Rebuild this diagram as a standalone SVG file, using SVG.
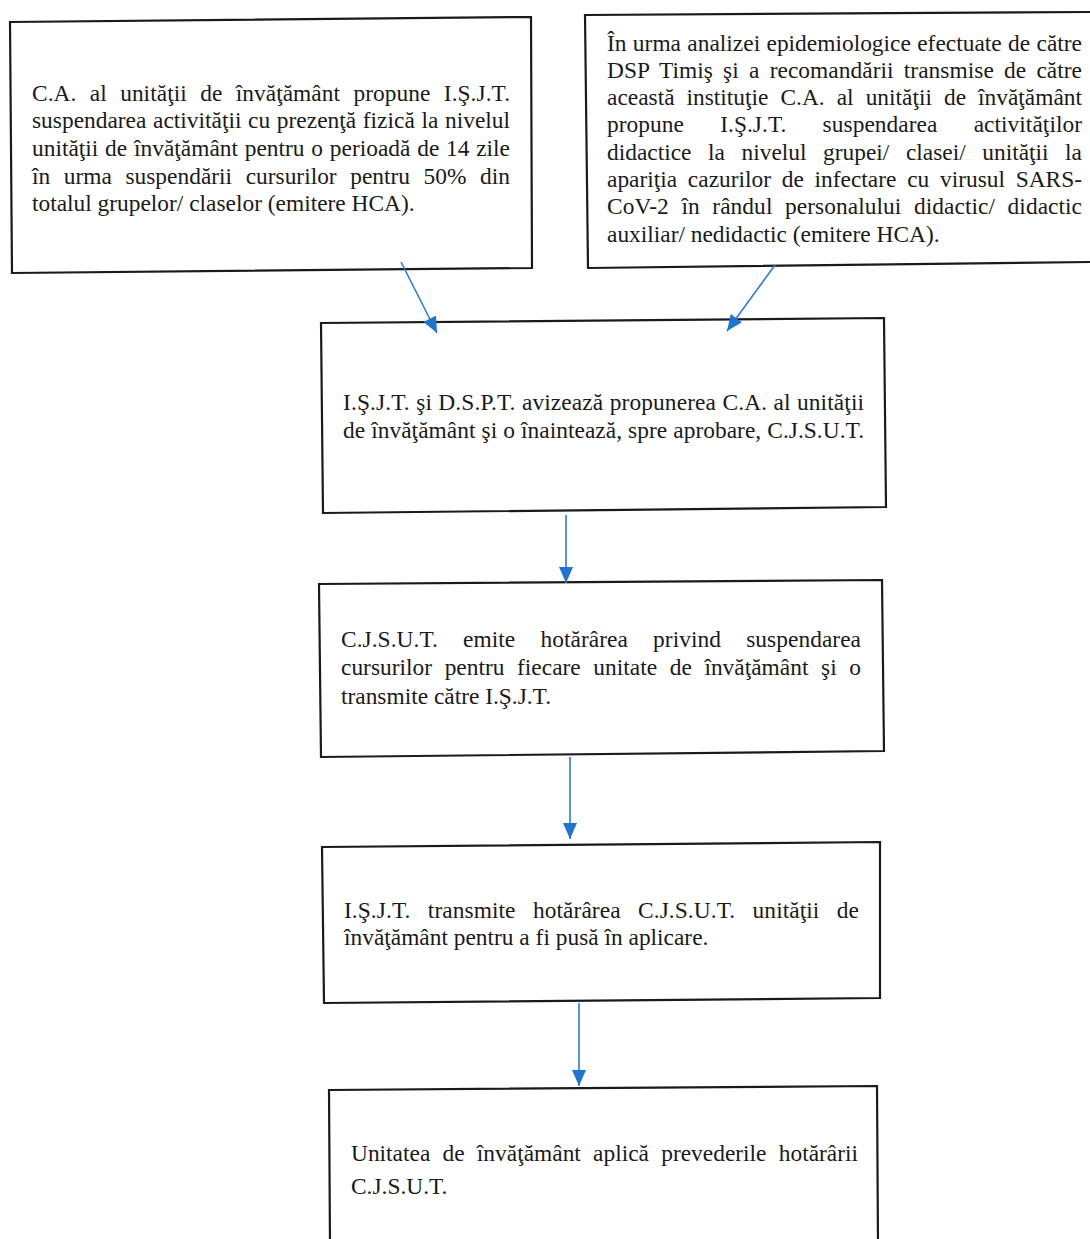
<svg xmlns="http://www.w3.org/2000/svg" width="1090" height="1239" viewBox="0 0 1090 1239">
<style>
.box{fill:#fff;stroke:#1a1a1a;stroke-width:2.2}
.t{font-family:"Liberation Serif","Times New Roman",serif;font-size:23.4px;fill:#1a1a1a}
.c{stroke:#2a7ed6;stroke-width:1.6;fill:none}
</style>
<defs>
<marker id="ah" markerUnits="userSpaceOnUse" markerWidth="18" markerHeight="16" refX="16" refY="7" orient="auto">
<path d="M0,0 L16,7 L0,14 Z" fill="#1f74cf"/>
</marker>
</defs>
<rect width="1090" height="1239" fill="#fff"/>

<g id="n1">
<polygon class="box" points="10,22 531,17 532,268 12,273"/>
<text class="t" x="32" y="101" word-spacing="7.5" textLength="478" lengthAdjust="spacing">C.A. al unităţii de învăţământ propune I.Ş.J.T.</text>
<text class="t" x="32" y="128" word-spacing="0.8" textLength="478" lengthAdjust="spacing">suspendarea activităţii cu prezenţă fizică la nivelul</text>
<text class="t" x="32" y="156" word-spacing="0.9" textLength="478" lengthAdjust="spacing">unităţii de învăţământ pentru o perioadă de 14 zile</text>
<text class="t" x="32" y="184" word-spacing="7.7" textLength="478" lengthAdjust="spacing">în urma suspendării cursurilor pentru 50% din</text>
<text class="t" x="32" y="211">totalul grupelor/ claselor (emitere HCA).</text>
</g>

<g id="n2">
<polygon class="box" points="585,15 1092,12 1092,262 588,268"/>
<text class="t" x="607" y="51" word-spacing="0.5" textLength="475" lengthAdjust="spacing">În urma analizei epidemiologice efectuate de către</text>
<text class="t" x="607" y="78" word-spacing="4.3" textLength="475" lengthAdjust="spacing">DSP Timiş şi a recomandării transmise de către</text>
<text class="t" x="607" y="105" word-spacing="6.2" textLength="475" lengthAdjust="spacing">această instituţie C.A. al unităţii de învăţământ</text>
<text class="t" x="607" y="132" word-spacing="30.3" textLength="475" lengthAdjust="spacing">propune I.Ş.J.T. suspendarea activităţilor</text>
<text class="t" x="607" y="160" word-spacing="10.7" textLength="475" lengthAdjust="spacing">didactice la nivelul grupei/ clasei/ unităţii la</text>
<text class="t" x="607" y="187" word-spacing="4.9" textLength="475" lengthAdjust="spacing">apariţia cazurilor de infectare cu virusul SARS-</text>
<text class="t" x="607" y="214" word-spacing="6.7" textLength="475" lengthAdjust="spacing">CoV-2 în rândul personalului didactic/ didactic</text>
<text class="t" x="607" y="242">auxiliar/ nedidactic (emitere HCA).</text>
</g>

<g id="n3">
<polygon class="box" points="321,323 884,318 886,507 323,513"/>
<text class="t" x="343" y="410" word-spacing="0.4" textLength="521" lengthAdjust="spacing">I.Ş.J.T. şi D.S.P.T. avizează propunerea C.A. al unităţii</text>
<text class="t" x="343" y="438" word-spacing="0.2" textLength="521" lengthAdjust="spacing">de învăţământ şi o înaintează, spre aprobare, C.J.S.U.T.</text>
</g>

<g id="n4">
<polygon class="box" points="319,584 882,580 884,751 321,757"/>
<text class="t" x="341" y="647" word-spacing="19.3" textLength="520" lengthAdjust="spacing">C.J.S.U.T. emite hotărârea privind suspendarea</text>
<text class="t" x="341" y="675" word-spacing="6.8" textLength="520" lengthAdjust="spacing">cursurilor pentru fiecare unitate de învăţământ şi o</text>
<text class="t" x="341" y="704">transmite către I.Ş.J.T.</text>
</g>

<g id="n5">
<polygon class="box" points="322,847 880,842 880,998 324,1003"/>
<text class="t" x="344" y="918" word-spacing="11.5" textLength="515" lengthAdjust="spacing">I.Ş.J.T. transmite hotărârea C.J.S.U.T. unităţii de</text>
<text class="t" x="344" y="945">învăţământ pentru a fi pusă în aplicare.</text>
</g>

<g id="n6">
<polygon class="box" points="329,1090 877,1086 878,1245 330,1245"/>
<text class="t" x="351" y="1161" word-spacing="6.4" textLength="507" lengthAdjust="spacing">Unitatea de învăţământ aplică prevederile hotărârii</text>
<text class="t" x="351" y="1194">C.J.S.U.T.</text>
</g>

<g id="connectors">
<line class="c" x1="401" y1="262" x2="437" y2="333" marker-end="url(#ah)"/>
<line class="c" x1="775" y1="265" x2="727" y2="331" marker-end="url(#ah)"/>
<line class="c" x1="566" y1="515" x2="566" y2="583" marker-end="url(#ah)"/>
<line class="c" x1="570" y1="757" x2="570" y2="839" marker-end="url(#ah)"/>
<line class="c" x1="579" y1="1003" x2="579" y2="1086" marker-end="url(#ah)"/>
</g>
</svg>
